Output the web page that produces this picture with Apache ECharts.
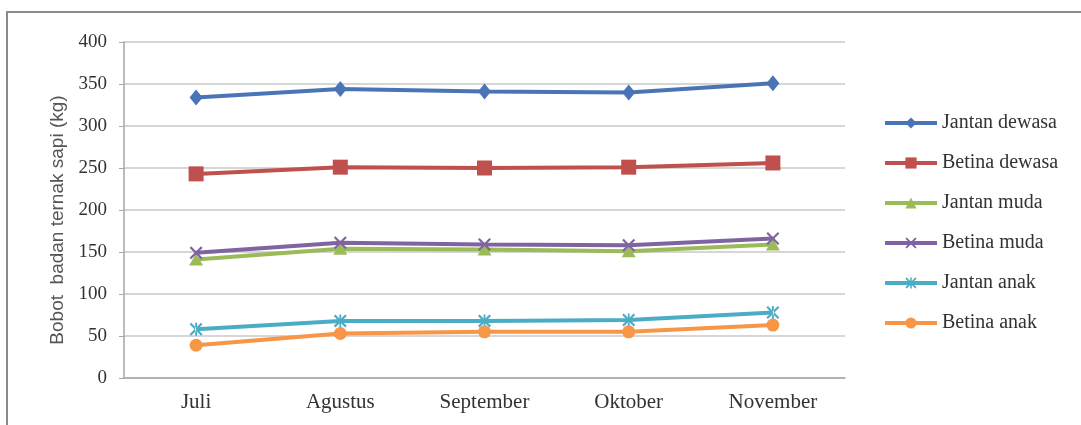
<!DOCTYPE html>
<html>
<head>
<meta charset="utf-8">
<script src="https://cdn.jsdelivr.net/npm/echarts@6/dist/echarts.min.js"></script>
<style>
  html, body { margin: 0; padding: 0; background: #ffffff; }
  #chart { width: 1081px; height: 425px; }
</style>
</head>
<body>
<div id="chart"></div>
<script>
// Bulan pengamatan
var months = ['Juli', 'Agustus', 'September', 'Oktober', 'November'];

// Bobot badan ternak sapi (kg) per kelompok
var jantanDewasa = [334, 344, 341, 340, 351];
var betinaDewasa = [243, 251, 250, 251, 256];
var jantanMuda   = [141, 154, 153, 151, 159];
var betinaMuda   = [149, 161, 159, 158, 166];
var jantanAnak   = [58, 68, 68, 69, 78];
var betinaAnak   = [39, 53, 55, 55, 63];

var yTicks = { min: 0, max: 400, interval: 50 };
var yTitle = 'Bobot  badan ternak sapi (kg)';

var xMark = 'path://M0,1.2 L1.2,0 L5,3.8 L8.8,0 L10,1.2 L6.2,5 L10,8.8 L8.8,10 L5,6.2 L1.2,10 L0,8.8 L3.8,5 Z';
var starMark = 'path://M0,1.2 L1.2,0 L5,3.8 L8.8,0 L10,1.2 L6.2,5 L10,8.8 L8.8,10 L5,6.2 L1.2,10 L0,8.8 L3.8,5 Z M4.3,0 L4.3,10 L5.7,10 L5.7,0 Z';

function line(name, data, color, symbol, size) {
  return {
    name: name,
    type: 'line',
    data: data,
    symbol: symbol,
    symbolSize: size,
    lineStyle: { width: 4, color: color },
    itemStyle: { color: color, borderWidth: 0 },
    emphasis: { disabled: true },
    animation: false
  };
}

var serif = 'Liberation Serif';

var chart = echarts.init(document.getElementById('chart'), null, { renderer: 'canvas' });
chart.setOption({
  backgroundColor: '#ffffff',
  animation: false,
  graphic: [{
    type: 'rect',
    shape: { x: 7, y: 12, width: 1200, height: 600 },
    style: { fill: 'none', stroke: '#8a8a8a', lineWidth: 2 },
    z: -1
  }, {
    type: 'text',
    x: 58,
    y: 220,
    rotation: Math.PI / 2,
    style: {
      text: yTitle,
      fontFamily: 'Liberation Sans',
      fontSize: 19,
      fill: '#555555',
      align: 'center',
      verticalAlign: 'middle'
    }
  }],
  grid: { left: 124, right: 236, top: 42, bottom: 47 },
  legend: {
    orient: 'vertical',
    left: 883,
    top: 113,
    padding: 0,
    itemWidth: 52,
    itemHeight: 14,
    itemGap: 20,
    lineStyle: { width: 4 },
    textStyle: { fontFamily: serif, fontSize: 20, color: '#333333', lineHeight: 20 },
    data: ['Jantan dewasa', 'Betina dewasa', 'Jantan muda', 'Betina muda', 'Jantan anak', 'Betina anak']
  },
  xAxis: {
    type: 'category',
    data: months,
    boundaryGap: true,
    axisLine: { lineStyle: { color: '#a6a6a6', width: 1.5 } },
    axisTick: { show: false },
    axisLabel: { fontFamily: serif, fontSize: 21, color: '#333333', margin: 14 }
  },
  yAxis: {
    type: 'value',
    min: yTicks.min,
    max: yTicks.max,
    interval: yTicks.interval,
    axisLine: { show: true, lineStyle: { color: '#a6a6a6', width: 1.5 } },
    axisTick: { show: true, length: 5, lineStyle: { color: '#a6a6a6' } },
    axisLabel: { fontFamily: serif, fontSize: 19, color: '#333333', margin: 17 },
    splitLine: { lineStyle: { color: '#c8c8c8', width: 1.5 } }
  },
  series: [
    line('Jantan dewasa', jantanDewasa, '#4a74b5', 'diamond', [13, 16]),
    line('Betina dewasa', betinaDewasa, '#c0504d', 'rect', [15, 15]),
    line('Jantan muda', jantanMuda, '#9bbb59', 'triangle', [14, 12]),
    line('Betina muda', betinaMuda, '#8064a2', xMark, [13, 13]),
    line('Jantan anak', jantanAnak, '#4bacc6', starMark, [13, 13]),
    line('Betina anak', betinaAnak, '#f79646', 'circle', [13, 13])
  ]
});
</script>
</body>
</html>
